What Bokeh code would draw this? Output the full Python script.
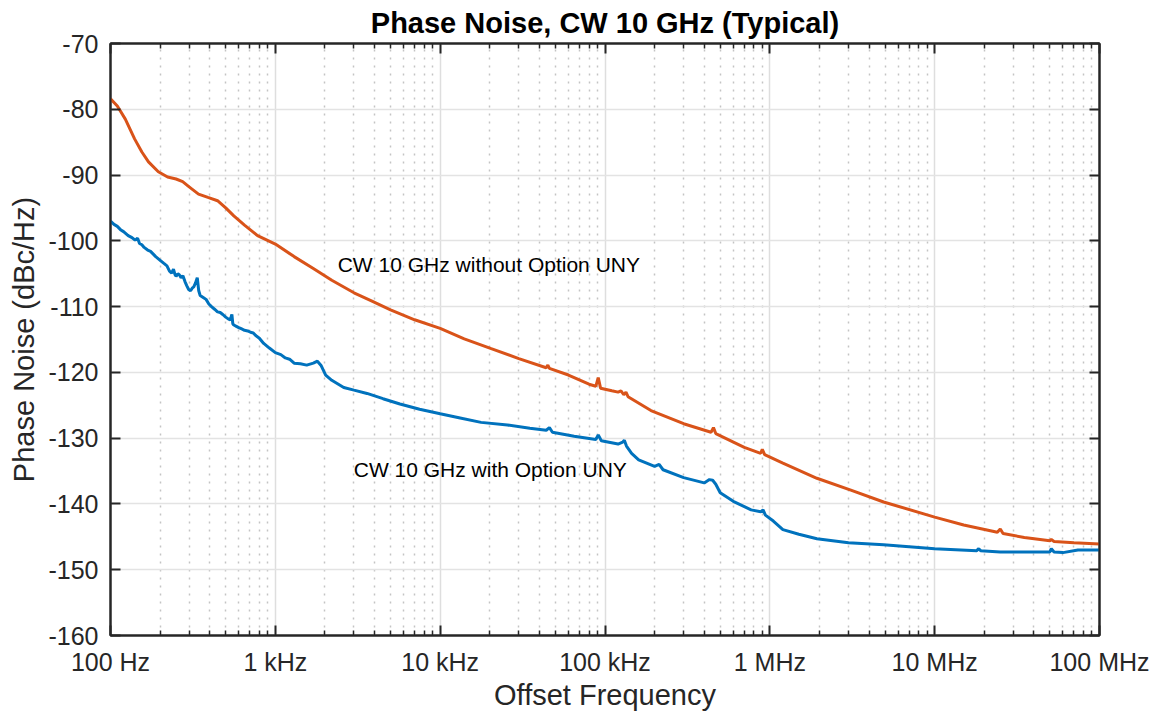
from bokeh.plotting import figure
from bokeh.models import (FixedTicker, LogAxis, LinearAxis, Range1d, Label,
                          CustomJSTickFormatter)
from bokeh.embed import file_html
from bokeh.resources import INLINE

# ---------------- data ----------------
title_text = "Phase Noise, CW 10 GHz (Typical)"
x_label = "Offset Frequency"
y_label = "Phase Noise (dBc/Hz)"

x_tick_values = [1e2, 1e3, 1e4, 1e5, 1e6, 1e7, 1e8]
x_tick_labels = ["100 Hz", "1 kHz", "10 kHz", "100 kHz", "1 MHz", "10 MHz", "100 MHz"]
y_tick_values = [-160, -150, -140, -130, -120, -110, -100, -90, -80, -70]

freq_without = [100, 110, 123, 140, 155, 170, 195, 222, 250, 274, 300, 342, 390, 446,
                500, 560, 650, 780, 1000, 1300, 1700, 2200, 3000, 3800, 5000, 7000,
                10000, 14000, 20400, 30000, 44000, 45000, 46000, 60000, 80000, 88000,
                91000, 94000, 110000, 120000, 125000, 130000, 134000, 138000, 190000,
                300000, 440000, 455000, 470000, 700000, 880000, 900000, 930000,
                1.2e6, 1.93e6, 3.1e6, 4.9e6, 1e7, 1.5e7, 2.4e7, 2.5e7, 2.6e7, 3.5e7,
                5.0e7, 5.1e7, 5.3e7, 7.0e7, 1e8]
pn_without = [-78.4, -79.5, -81.5, -84.5, -86.5, -88.0, -89.5, -90.3, -90.6, -91.0,
              -91.8, -92.9, -93.4, -93.9, -95.0, -96.2, -97.6, -99.2, -100.5, -102.4,
              -104.2, -106.0, -107.9, -109.1, -110.5, -112.0, -113.3, -114.9, -116.4,
              -117.9, -119.3, -118.9, -119.4, -120.4, -121.8, -122.1, -120.8, -122.4,
              -122.8, -123.0, -122.8, -123.4, -123.0, -123.7, -125.8, -127.8, -129.1,
              -128.4, -129.3, -131.4, -132.3, -131.7, -132.5, -133.8, -136.1, -137.9,
              -139.7, -142.0, -143.2, -144.3, -143.8, -144.5, -145.1, -145.6, -145.4,
              -145.7, -145.9, -146.1]

freq_with = [100, 105, 110, 115, 120, 128, 135, 141, 146, 150, 155, 160, 168, 175, 188,
             201, 210, 220, 228, 235, 241, 246, 250, 256, 262, 268, 275, 283, 290, 298,
             306, 313, 320, 328, 336, 343, 350, 365, 380, 395, 410, 428, 446, 463, 480,
             500, 520, 533, 545, 552, 560, 580, 600, 625, 650, 680, 707, 735, 760, 800,
             850, 920, 1000, 1080, 1150, 1220, 1300, 1420, 1550, 1700, 1800, 1900, 2020,
             2200, 2600, 3000, 3600, 4500, 5700, 7500, 10000, 13000, 17700, 25600, 35000,
             44000, 46000, 48000, 65000, 88000, 91000, 95000, 120000, 128000, 131000,
             135000, 145000, 160000, 200000, 213000, 225000, 300000, 400000, 430000,
             450000, 470000, 500000, 600000, 770000, 880000, 910000, 940000, 1.05e6,
             1.2e6, 1.5e6, 1.93e6, 3e6, 4.9e6, 1e7, 1.8e7, 1.85e7, 1.9e7, 2.5e7, 4e7,
             5e7, 5.1e7, 5.3e7, 6e7, 7.4e7, 1e8]
pn_with = [-97.0, -97.5, -97.8, -98.3, -98.6, -99.2, -99.5, -99.9, -99.6, -100.4,
           -100.6, -101.0, -101.4, -101.6, -102.4, -103.0, -103.4, -103.8, -104.6,
           -104.9, -104.3, -105.1, -105.4, -105.0, -105.2, -105.6, -105.3, -106.2,
           -106.8, -107.4, -107.6, -107.2, -107.0, -106.4, -105.6, -107.6, -108.3,
           -108.6, -108.9, -109.6, -110.0, -110.4, -110.8, -110.9, -111.2, -111.6,
           -111.9, -112.0, -111.2, -112.6, -112.8, -113.0, -113.2, -113.4, -113.6,
           -113.7, -113.9, -114.0, -114.4, -114.8, -115.6, -116.3, -117.0, -117.3,
           -117.8, -118.0, -118.6, -118.7, -118.9, -118.6, -118.3, -119.0, -120.4,
           -121.2, -122.3, -122.7, -123.2, -124.0, -124.8, -125.6, -126.3, -126.9,
           -127.6, -128.0, -128.5, -128.8, -128.4, -129.1, -129.7, -130.2, -129.5,
           -130.4, -130.9, -130.6, -130.3, -131.2, -132.3, -133.3, -134.3, -134.0,
           -134.8, -136.0, -136.8, -136.3, -136.4, -137.0, -138.3, -139.6, -140.9,
           -141.2, -140.9, -141.7, -142.6, -143.9, -144.6, -145.3, -145.9, -146.2,
           -146.8, -147.1, -146.8, -147.1, -147.3, -147.3, -147.3, -146.8, -147.3,
           -147.4, -147.0, -147.0]

label_without = "CW 10 GHz without Option UNY"
label_with = "CW 10 GHz with Option UNY"
label_without_pos = (2390, -103.6)
label_with_pos = (2990, -134.8)

# ---------------- styling ----------------
FONT = "Liberation Sans"
AX_COLOR = "#262626"
ORANGE = "#D95319"
BLUE = "#0072BD"

p = figure(width=1155, height=713, x_axis_type="log",
           x_range=Range1d(1e2, 1e8), y_range=Range1d(-160, -70),
           output_backend="svg", toolbar_location=None,
           min_border_left=110, min_border_right=56, min_border_top=42,
           min_border_bottom=77)

p.title.text = title_text
p.title.text_font = FONT
p.title.text_font_size = "29px"
p.title.text_font_style = "bold"
p.title.align = "center"
p.title.text_color = "#000000"
p.title.standoff = 9

minor_x = [k * 10 ** e for e in range(2, 8) for k in range(2, 10)]
xticker = FixedTicker(ticks=x_tick_values, minor_ticks=minor_x)
yticker = FixedTicker(ticks=y_tick_values, minor_ticks=[])

fmt = CustomJSTickFormatter(args=dict(vals=x_tick_values, labs=x_tick_labels), code="""
const i = vals.findIndex(v => Math.abs(v - tick) / v < 1e-6);
return i >= 0 ? labs[i] : '';
""")
yfmt = CustomJSTickFormatter(code="return tick.toFixed(0);")

def style_axis(ax):
    ax.axis_line_color = AX_COLOR
    ax.axis_line_width = 2
    ax.major_tick_line_color = AX_COLOR
    ax.minor_tick_line_color = AX_COLOR
    ax.major_tick_line_width = 2
    ax.minor_tick_line_width = 1.5
    ax.major_tick_in = 10
    ax.major_tick_out = 0
    ax.minor_tick_in = 5
    ax.minor_tick_out = 0
    ax.major_label_text_font = FONT
    ax.major_label_text_color = AX_COLOR
    ax.axis_label_text_font = FONT
    ax.axis_label_text_color = AX_COLOR
    ax.axis_label_text_font_style = "normal"

xa = p.xaxis[0]
xa.ticker = xticker
xa.formatter = fmt
style_axis(xa)
xa.major_label_text_font_size = "25px"
xa.major_label_standoff = 12
xa.axis_label = x_label
xa.axis_label_text_font_size = "29px"
xa.axis_label_standoff = 0

ya = p.yaxis[0]
ya.ticker = yticker
ya.formatter = yfmt
style_axis(ya)
ya.major_label_text_font_size = "25px"
ya.major_label_standoff = 12
ya.axis_label = y_label
ya.axis_label_text_font_size = "29px"
ya.axis_label_standoff = 5

top_ax = LogAxis(ticker=xticker)
style_axis(top_ax)
top_ax.major_label_text_font_size = "1px"
top_ax.major_label_text_alpha = 0
top_ax.major_label_standoff = 0
p.add_layout(top_ax, "above")

right_ax = LinearAxis(ticker=yticker)
style_axis(right_ax)
right_ax.major_label_text_font_size = "1px"
right_ax.major_label_text_alpha = 0
right_ax.major_label_standoff = 0
p.add_layout(right_ax, "right")

p.outline_line_color = AX_COLOR
p.outline_line_width = 2

p.xgrid.ticker = xticker
p.xgrid.grid_line_color = "#dedede"
p.xgrid.grid_line_width = 1.5
p.xgrid.minor_grid_line_color = "#c4c4c4"
p.xgrid.minor_grid_line_dash = "2 6"
p.xgrid.minor_grid_line_width = 1.5
p.ygrid.ticker = yticker
p.ygrid.grid_line_color = "#e3e3e3"
p.ygrid.grid_line_width = 1.5

p.background_fill_color = "white"
p.border_fill_color = "white"

p.line(freq_without, pn_without, line_color=ORANGE, line_width=3)
p.line(freq_with, pn_with, line_color=BLUE, line_width=3)

p.add_layout(Label(x=label_without_pos[0], y=label_without_pos[1], text=label_without,
                   text_font=FONT, text_font_size="21px", text_color="#000000",
                   text_align="left", text_baseline="middle"))
p.add_layout(Label(x=label_with_pos[0], y=label_with_pos[1], text=label_with,
                   text_font=FONT, text_font_size="21px", text_color="#000000",
                   text_align="left", text_baseline="middle"))

open("out.html", "w").write(file_html(p, INLINE))
